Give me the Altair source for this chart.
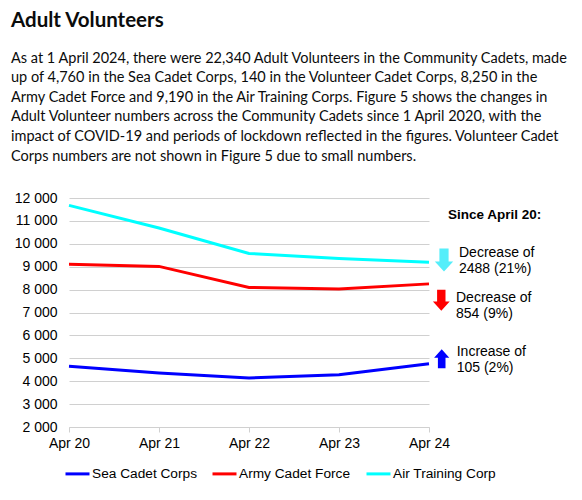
import altair as alt
import pandas as pd

# ---- data ----
years = ["Apr 20", "Apr 21", "Apr 22", "Apr 23", "Apr 24"]
series_names = ["Sea Cadet Corps", "Army Cadet Force", "Air Training Corp"]
sea = [4655, 4360, 4140, 4280, 4760]
army = [9104, 9013, 8096, 8030, 8250]
air = [11678, 10690, 9580, 9358, 9190]
series_colors = ["#0000FF", "#FF0000", "#00FFFF"]
y_ticks = [2000, 3000, 4000, 5000, 6000, 7000, 8000, 9000, 10000, 11000, 12000]

title_text = "Adult Volunteers"
paragraph = [
    "As at 1 April 2024, there were 22,340 Adult Volunteers in the Community Cadets, made",
    "up of 4,760 in the Sea Cadet Corps, 140 in the Volunteer Cadet Corps, 8,250 in the",
    "Army Cadet Force and 9,190 in the Air Training Corps. Figure 5 shows the changes in",
    "Adult Volunteer numbers across the Community Cadets since 1 April 2020, with the",
    "impact of COVID-19 and periods of lockdown reflected in the figures. Volunteer Cadet",
    "Corps numbers are not shown in Figure 5 due to small numbers.",
]
since_text = "Since April 20:"
air_note = ["Decrease of", "2488 (21%)"]
army_note = ["Decrease of", "854 (9%)"]
sea_note = ["Increase of", "105 (2%)"]

rows = []
for name, vals in zip(series_names, [sea, army, air]):
    for yr, v in zip(years, vals):
        rows.append({"year": yr, "series": name, "value": v})
df = pd.DataFrame(rows)
one = pd.DataFrame({"k": [0]})

CHART_FONT = "Liberation Sans"
TEXT_FONT = "Lato"

lines = alt.Chart(df).mark_line(strokeWidth=3).encode(
    x=alt.X("year:O", sort=years,
            scale=alt.Scale(type="point", padding=0),
            axis=alt.Axis(labelAngle=0, grid=False, domainColor="#d0d0d0",
                          tickColor="#d0d0d0", tickSize=5, labelPadding=4,
                          labelFontSize=14, labelFont=CHART_FONT,
                          labelColor="#000000", title=None)),
    y=alt.Y("value:Q",
            scale=alt.Scale(domain=[2000, 12000], nice=False, zero=False),
            axis=alt.Axis(values=y_ticks, ticks=False, domain=False,
                          gridColor="#d0d0d0", labelPadding=12,
                          labelFontSize=14, labelFont=CHART_FONT,
                          labelColor="#000000", title=None,
                          labelExpr="replace(format(datum.value, ','), ',', ' ')")),
    color=alt.Color("series:N",
                    scale=alt.Scale(domain=series_names, range=series_colors),
                    legend=alt.Legend(orient="none", legendX=-5, legendY=262,
                                      direction="horizontal", title=None,
                                      padding=0,
                                      symbolType="stroke", symbolSize=576,
                                      symbolStrokeWidth=3, labelFontSize=13.7,
                                      labelFont=CHART_FONT, labelColor="#000000",
                                      columnPadding=9, labelOffset=1)),
)

def txt(text, x, y, size, font, weight="normal", lh=None, color="#0b0c0c"):
    kw = dict(text=text, align="left", baseline="alphabetic", fontSize=size,
              font=font, fontWeight=weight, color=color)
    if lh is not None:
        kw["lineHeight"] = lh
    return alt.Chart(one).mark_text(**kw).encode(x=alt.value(x), y=alt.value(y))

title = txt(title_text, -58, -171.5, 20.5, TEXT_FONT, "bold")
para = txt(paragraph, -58, -135.5, 14.5, TEXT_FONT, lh=19.6)
since = txt(since_text, 379, 21.3, 13.5, CHART_FONT, "bold", color="#000000")
n_air = txt(air_note, 390, 58.7, 14, CHART_FONT, lh=16.7, color="#000000")
n_army = txt(army_note, 387, 103.7, 14, CHART_FONT, lh=16.3, color="#000000")
n_sea = txt(sea_note, 387.7, 158, 14, CHART_FONT, lh=16.3, color="#000000")

DOWN = "M-0.4,-1L0.4,-1L0.4,0.12L0.8,0.12L0,1L-0.8,0.12L-0.4,0.12Z"
UP = "M-0.4,1L0.4,1L0.4,-0.12L0.8,-0.12L0,-1L-0.8,-0.12L-0.4,-0.12Z"

def arrow(path, x, y, size, color):
    return alt.Chart(one).mark_point(shape=path, filled=True, size=size,
                                     color=color, opacity=1, strokeWidth=0).encode(
        x=alt.value(x), y=alt.value(y))

a_air = arrow(DOWN, 375, 62, 529, "#55EEFA")
a_army = arrow(DOWN, 372.3, 102.3, 441, "#FF0000")
a_sea = arrow(UP, 372.7, 160.8, 361, "#0000FF")

chart = alt.layer(lines, title, para, since, n_air, n_army, n_sea,
                  a_air, a_army, a_sea).properties(
    width=360, height=229,
    autosize=alt.AutoSizeParams(type="none"),
    padding={"left": 61, "top": 190, "right": 145, "bottom": 60},
).configure_view(stroke=None)

chart.save("out.html", embed_options={"renderer": "svg", "actions": False})
